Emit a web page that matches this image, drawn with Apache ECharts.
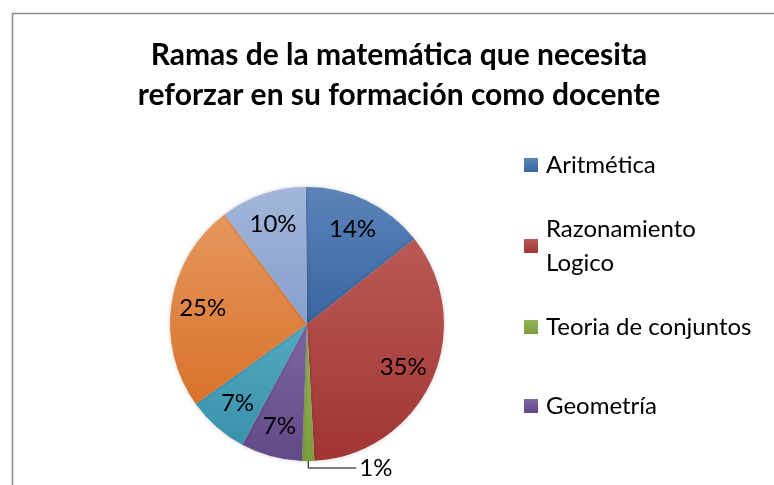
<!DOCTYPE html>
<html>
<head>
<meta charset="utf-8">
<script src="https://cdn.jsdelivr.net/npm/echarts@6/dist/echarts.min.js"></script>
<style>
  html, body { margin: 0; padding: 0; background: #fff; }
  #chart { width: 774px; height: 485px; }
</style>
</head>
<body>
<div id="chart"></div>
<script>
// data (respuestas por rama, se muestran como porcentaje)
const ramas = ['Aritmética', 'Razonamiento Logico', 'Teoria de conjuntos', 'Geometría', 'Estadística', 'Álgebra', 'Trigonometría'];
const respuestas = [10, 24, 1, 5, 5, 17, 7];
const legendShown = ['Aritmética', 'Razonamiento Logico', 'Teoria de conjuntos', 'Geometría'];

// colores (claro arriba, oscuro abajo)
const topColors = ['#5b83b9', '#b95956', '#93b555', '#7d66a3', '#52a9c1', '#e6975e', '#a2b6da'];
const bottomColors = ['#3865a1', '#a13533', '#7c9d3e', '#634888', '#3a91ab', '#d8722a', '#869fcc'];

const FONT = 'Lato';
const CX = 307, CY = 324, R = 137;
const total = respuestas.reduce((a, b) => a + b, 0);

const chart = echarts.init(document.getElementById('chart'));

const grad = (i) => new echarts.graphic.LinearGradient(0, 0, 0, 1, [
    { offset: 0, color: topColors[i] },
    { offset: 1, color: bottomColors[i] }
]);

const legendTops = [165, 246, 327, 406];

const legends = legendShown.map((name, i) => {
    const twoLine = name === 'Razonamiento Logico';
    return {
        data: [name],
        orient: 'vertical',
        left: 524,
        top: twoLine ? legendTops[i] - 51 : legendTops[i] - 17,
        padding: 0,
        icon: 'rect',
        itemWidth: 14,
        itemHeight: 14,
        selectedMode: false,
        formatter: (n) => n === 'Razonamiento Logico' ? 'Razonamiento\nLogico' : n,
        textStyle: {
            fontFamily: FONT,
            fontSize: 24,
            color: '#000',
            lineHeight: 34,
            padding: twoLine ? [34, 0, 0, 3] : [0, 0, 0, 3]
        }
    };
});

chart.setOption({
    backgroundColor: '#fff',
    animation: false,
    title: {
        text: 'Ramas de la matemática que necesita\nreforzar en su formación como docente',
        left: 399,
        top: 35,
        textAlign: 'center',
        padding: 0,
        textStyle: {
            fontFamily: FONT,
            fontWeight: 'bold',
            fontSize: 30,
            lineHeight: 40,
            color: '#000'
        }
    },
    legend: legends,
    graphic: [{
        type: 'rect',
        left: 10,
        top: 11,
        shape: { width: 900, height: 600 },
        style: { fill: 'none', stroke: '#8c8c8c', lineWidth: 1.5 },
        silent: true,
        z: -1
    }],
    series: [{
        name: 'Ramas',
        type: 'pie',
        center: [CX, CY],
        radius: R,
        startAngle: 90.5,
        clockwise: true,
        avoidLabelOverlap: false,
        label: { show: false },
        labelLine: { show: false },
        itemStyle: {
            borderWidth: 0,
            shadowBlur: 4,
            shadowColor: 'rgba(0,0,0,0.2)'
        },
        emphasis: { disabled: true },
        data: ramas.map((n, i) => ({
            name: n,
            value: respuestas[i],
            itemStyle: { color: grad(i) }
        }))
    }, {
        // capa de etiquetas
        name: 'Etiquetas',
        type: 'pie',
        center: [CX, CY],
        radius: [68, R],
        startAngle: 90.5,
        clockwise: true,
        silent: true,
        avoidLabelOverlap: false,
        itemStyle: { color: 'rgba(0,0,0,0)', borderWidth: 0 },
        emphasis: { disabled: true },
        label: {
            show: true,
            position: 'inside',
            formatter: (p) => Math.round(p.value / total * 100) + '%',
            fontFamily: FONT,
            fontSize: 24,
            color: '#000',
            padding: [6, 0, 0, 0]
        },
        labelLine: { show: false },
        data: ramas.map((n, i) => {
            const item = { name: n, value: respuestas[i] };
            if (respuestas[i] / total < 0.03) {
                item.label = { position: 'outside', distanceToLabelLine: 3, padding: 0 };
                item.labelLine = {
                    show: true,
                    length: 7,
                    length2: 48,
                    lineStyle: { color: '#000', width: 1 }
                };
            }
            return item;
        })
    }]
});
</script>
</body>
</html>
